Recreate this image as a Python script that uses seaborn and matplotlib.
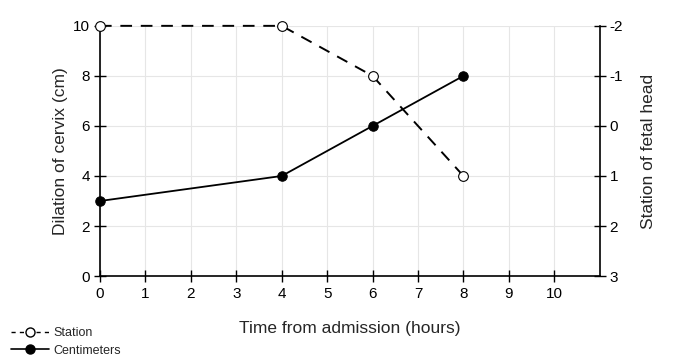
import numpy as np
import pandas as pd
import matplotlib
matplotlib.use("Agg")
import matplotlib.pyplot as plt
from matplotlib.lines import Line2D
import seaborn as sns

# Daten
stunden_cm = [0, 4, 6, 8]
zentimeter = [3, 4, 6, 8]
stunden_station = [0, 4, 6, 8]
station = [-2, -2, -1, 1]

x_ticks = list(range(0, 11))
y_ticks_links = [0, 2, 4, 6, 8, 10]
y_ticks_rechts = [-2, -1, 0, 1, 2, 3]

sns.set_style("white")
plt.rcParams['font.family'] = ['Liberation Sans', 'DejaVu Sans']

df_cm = pd.DataFrame({'Zeit': stunden_cm, 'Wert': zentimeter})
df_st = pd.DataFrame({'Zeit': stunden_station, 'Wert': station})

fig = plt.figure(figsize=(6.8, 3.59), dpi=100)
ax = fig.add_axes([0.147, 0.231, 0.735, 0.697])
ax2 = ax.twinx()

# Gitter
ax.set_xticks(x_ticks)
ax.set_yticks(y_ticks_links)
ax.grid(True, color='#e6e6e6', linewidth=0.8)
ax.set_axisbelow(True)

sns.lineplot(data=df_cm, x='Zeit', y='Wert', ax=ax, color='black', linewidth=1.3,
             marker='o', markersize=6.8, markerfacecolor='black', markeredgecolor='black',
             clip_on=False, zorder=3)
sns.lineplot(data=df_st, x='Zeit', y='Wert', ax=ax2, color='black', linewidth=1.4,
             linestyle=(0, (6, 4.5)), marker='o', markersize=7, markerfacecolor='white',
             markeredgecolor='black', markeredgewidth=0.8, clip_on=False, zorder=3)

ax.set_xlim(0, 11)
ax.set_ylim(0, 10)
ax2.set_ylim(3, -2)
ax2.set_yticks(y_ticks_rechts)
ax2.set_yticklabels([str(v) for v in y_ticks_rechts])

for a in (ax, ax2):
    a.spines['top'].set_visible(False)
    for s in a.spines.values():
        s.set_color('black')
        s.set_linewidth(1.2)
ax.spines['right'].set_visible(False)
ax2.spines['left'].set_visible(False)
ax2.spines['bottom'].set_visible(False)

ax.tick_params(axis='both', direction='inout', length=8, width=1, labelsize=11,
               colors='black', left=True, bottom=True)
ax.tick_params(axis='x', pad=4)
ax.tick_params(axis='y', pad=3)
ax2.tick_params(axis='y', direction='inout', length=8, width=1, labelsize=11,
                colors='black', pad=3, right=True)

ax.set_xlabel('Time from admission (hours)', fontsize=12.5, labelpad=14)
ax.set_ylabel('Dilation of cervix (cm)', fontsize=12.5, labelpad=4)
ax2.set_ylabel('Station of fetal head', fontsize=12.5, labelpad=13)

griffe = [
    Line2D([0], [0], color='black', linestyle=(0, (3, 3)), linewidth=1, marker='o',
           markersize=6.5, markerfacecolor='white', markeredgecolor='black'),
    Line2D([0], [0], color='black', linewidth=1.2, marker='o', markersize=6.5,
           markerfacecolor='black'),
]
fig.legend(griffe, ['Station', 'Centimeters'], loc='lower left', bbox_to_anchor=(0.0, -0.025),
           frameon=False, fontsize=9, handlelength=3.0, handletextpad=0.4, labelspacing=0.45)

fig.savefig('out.png', dpi=100)
